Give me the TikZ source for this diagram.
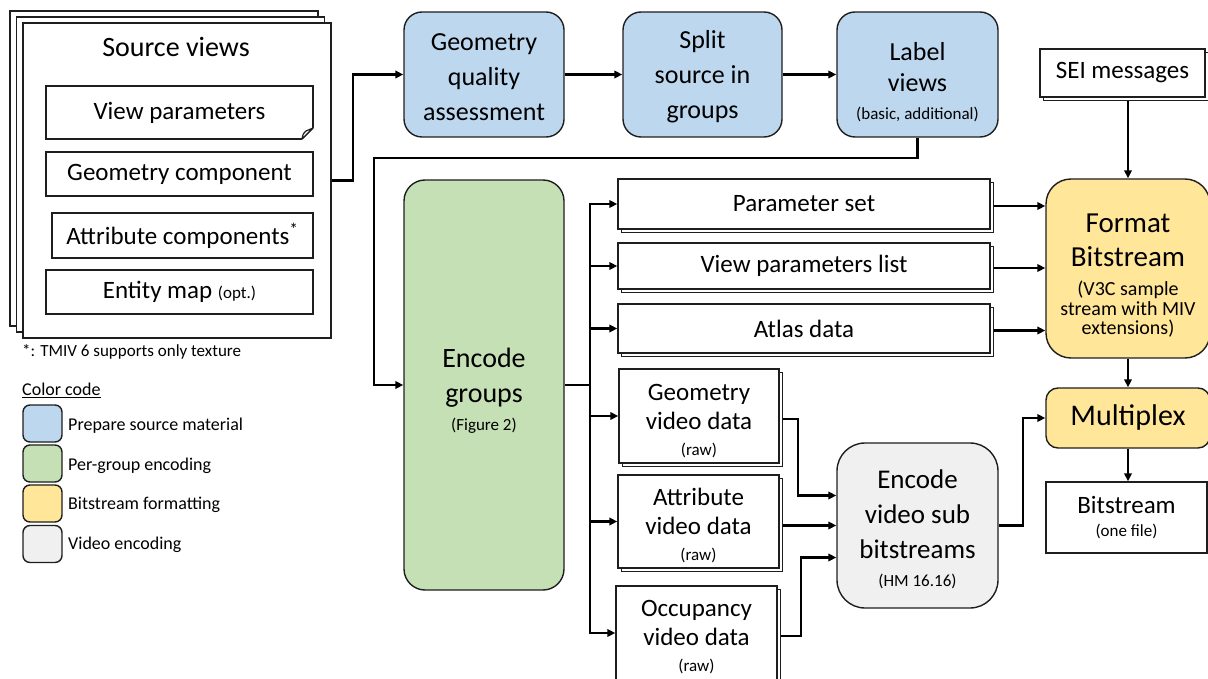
\documentclass[tikz,border=0pt]{standalone}
\usepackage{fontspec}
\setmainfont{Carlito}
\usetikzlibrary{arrows.meta,shadows,calc}
\definecolor{cBlue}{HTML}{BDD7EE}
\definecolor{cGreen}{HTML}{C5E0B4}
\definecolor{cYellow}{HTML}{FFE699}
\definecolor{cGray}{HTML}{F0F0F0}
\definecolor{ln}{HTML}{1E1E1E}
\newcommand{\fsz}[2]{\fontsize{#1}{#2}\selectfont}
\newcommand{\lift}[1]{\rule{0pt}{#1}}
\begin{document}
\begin{tikzpicture}[x=1pt,y=-1pt,
  bx/.style={draw=ln, line width=1.4pt, fill=white, inner sep=0pt, align=center},
  rbx/.style={bx, rounded corners=18pt},
  dbx/.style={bx, copy shadow={shadow xshift=3.5pt, shadow yshift=-3.5pt}},
  leg/.style={draw=ln, line width=1.4pt, rounded corners=7pt, minimum width=39pt, minimum height=37pt, inner sep=0pt},
  txt/.style={anchor=west, inner sep=0pt, font=\fsz{17}{20}},
  ltxt/.style={anchor=west, inner sep=0pt, font=\fsz{18}{21}},
  conn/.style={draw=black, line width=2.3pt, -{Triangle[length=8pt,width=7.5pt]}},
  plain/.style={draw=black, line width=2.3pt}
]
\useasboundingbox (0,0) rectangle (1208,679);

% ---------------- Source views ----------------
\node[bx, double copy shadow={shadow xshift=-6.5pt, shadow yshift=6pt},
      minimum width=308pt, minimum height=315pt] (src) at (177,180.5) {};
\node[font=\fsz{28}{34}, inner sep=0pt] (srct) at (176,47) {Source views};
\node[bx, minimum width=267pt, minimum height=53pt, font=\fsz{25}{30}] (vp) at (179.5,112.5) {View parameters};
\fill[white] (301,140.5) -- (314.5,140.5) -- (314.5,127) -- cycle;
\draw[draw=ln, line width=1.2pt, line join=round] (302,139) -- (313,128);
\draw[draw=ln, line width=1.2pt, line join=round, fill=white] (302,139) .. controls (303,134) .. (306,131) -- (313,128) -- cycle;
\node[bx, minimum width=267pt, minimum height=44pt, font=\fsz{25}{30}] (gc) at (179.5,174) {Geometry component};
\node[bx, minimum width=261pt, minimum height=45pt, font=\fsz{25}{30}] (ac) at (182.5,235.5) {Attribute components\textsuperscript{*}};
\node[bx, minimum width=267pt, minimum height=44pt, font=\fsz{25}{30}] (em) at (179.5,292) {Entity map {\fsz{17}{20}(opt.)}};

% ---------------- Footnote and legend ----------------
\node[txt] (fn) at (22,352) {*: TMIV 6 supports only texture};
\node[ltxt] (cc) at (22,390) {\underline{Color code}};
\node[leg, fill=cBlue]   (lg1) at (42.5,423.5) {};
\node[leg, fill=cGreen]  (lg2) at (42.5,463.5) {};
\node[leg, fill=cYellow] (lg3) at (42.5,503.5) {};
\node[leg, fill=cGray]   (lg4) at (42.5,544) {};
\node[ltxt] (lt1) at (68,426) {Prepare source material};
\node[ltxt] (lt2) at (68,466) {Per-group encoding};
\node[ltxt] (lt3) at (68,505) {Bitstream formatting};
\node[ltxt] (lt4) at (68,545) {Video encoding};

% ---------------- Top row ----------------
\node[rbx, fill=cBlue, minimum width=160pt, minimum height=125pt, font=\fsz{26}{35}] (gqa) at (484,74.5) {\lift{22pt}Geometry\\quality\\assessment};
\node[rbx, fill=cBlue, minimum width=159pt, minimum height=125pt, font=\fsz{26}{35}] (split) at (702.5,74.5) {\lift{22pt}Split\\source in\\groups};
\node[rbx, fill=cBlue, minimum width=161pt, minimum height=125pt, font=\fsz{26}{35}] (lbl) at (917.5,74.5) {\lift{34pt}Label\\[-4pt]views\\[-7pt]{\fsz{17}{20}(basic, additional)}};

% ---------------- Encode groups ----------------
\node[rbx, rounded corners=21pt, fill=cGreen, minimum width=160pt, minimum height=410pt, font=\fsz{28}{35}] (enc) at (484,385) {\lift{30pt}Encode\\groups\\[-7pt]{\fsz{17}{20}(Figure 2)}};

% ---------------- Outputs of encode groups ----------------
\node[dbx, minimum width=372pt, minimum height=50pt, font=\fsz{25}{30}] (ps) at (804,204) {Parameter set};
\node[dbx, minimum width=372pt, minimum height=46pt, font=\fsz{25}{30}] (vpl) at (804,266) {View parameters list};
\node[dbx, minimum width=372pt, minimum height=49pt, font=\fsz{25}{30}] (atl) at (804,328.5) {Atlas data};
\node[dbx, minimum width=160pt, minimum height=94pt, font=\fsz{25}{29}] (gvd) at (699,416) {\lift{25.5pt}Geometry\\video data\\[-3pt]{\fsz{17}{20}(raw)}};
\node[dbx, minimum width=161pt, minimum height=93pt, font=\fsz{25}{29}] (avd) at (698.5,521.5) {\lift{25.5pt}Attribute\\video data\\[-3pt]{\fsz{17}{20}(raw)}};
\node[dbx, minimum width=161pt, minimum height=94pt, font=\fsz{25}{29}] (ovd) at (696.5,633) {\lift{25pt}Occupancy\\video data\\[-3pt]{\fsz{17}{20}(raw)}};

% ---------------- Video encoding ----------------
\node[rbx, rounded corners=28pt, fill=cGray, minimum width=161pt, minimum height=165pt, font=\fsz{27}{35}] (evs) at (917.5,525.5) {\lift{27pt}Encode\\video sub\\bitstreams\\[-7pt]{\fsz{17}{20}(HM 16.16)}};

% ---------------- Right column ----------------
\node[dbx, minimum width=165pt, minimum height=48pt, font=\fsz{25}{30}] (sei) at (1122.5,73) {SEI messages};
\node[rbx, rounded corners=25pt, fill=cYellow, minimum width=164pt, minimum height=179pt, font=\fsz{29}{34}] (fmt) at (1128,268.5) {\lift{33pt}Format\\Bitstream\\[-5pt]{\fsz{20}{20}(V3C sample}\\[-14pt]{\fsz{20}{20}stream with MIV}\\[-15pt]{\fsz{20}{20}extensions)}};
\node[rbx, rounded corners=12pt, fill=cYellow, minimum width=164pt, minimum height=60pt, font=\fsz{30}{35}] (mux) at (1128,418) {Multiplex};
\node[bx, minimum width=161pt, minimum height=71pt, font=\fsz{25}{30}] (bs) at (1126.5,517.5) {Bitstream\\[-7pt]{\fsz{17}{20}(one file)}};

% ---------------- Connectors ----------------
\draw[conn] (src.east) -- ++(21,0) |- (gqa.west);
\draw[conn] (gqa.east) -- (split.west);
\draw[conn] (split.east) -- (lbl.west);
\coordinate (t1) at (374,158);
\draw[conn] (lbl.south) |- (t1) |- (enc.west);
\coordinate (bus) at (590,385);
\draw[plain] (enc.east) -- (bus);
\foreach \n in {ps,vpl,atl,gvd,avd,ovd} {\draw[conn] (bus) |- (\n.west);}
\foreach \n in {ps,vpl,atl} {\draw[conn] ([xshift=3.5pt,yshift=-2pt]\n.east) -- ([yshift=-2pt]\n.east -| fmt.west);}
\draw[conn] ([xshift=3.5pt,yshift=-3pt]gvd.east) -- ++(15,0) |- ([yshift=30pt]evs.west);
\draw[conn] ([xshift=3.5pt]avd.east |- evs.west) -- (evs.west);
\draw[conn] ([xshift=3.5pt,yshift=-3pt]ovd.east) -- ++(20,0) |- ([yshift=-32pt]evs.west);
\draw[conn] (evs.east) -- ++(24,0) |- (mux.west);
\draw[conn] ([yshift=-3.5pt]sei.south -| fmt.north) -- (fmt.north);
\draw[conn] (fmt.south) -- (mux.north);
\draw[conn] (mux.south) -- (mux.south |- bs.north);
\end{tikzpicture}
\end{document}
